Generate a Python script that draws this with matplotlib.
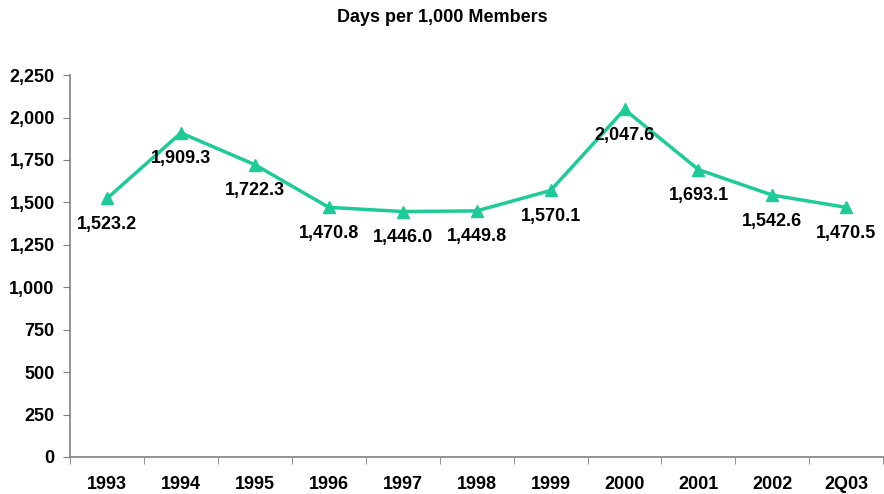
import matplotlib.pyplot as plt
import numpy as np

years = ["1993", "1994", "1995", "1996", "1997", "1998", "1999", "2000", "2001", "2002", "2Q03"]
days = [1523.2, 1909.3, 1722.3, 1470.8, 1446.0, 1449.8, 1570.1, 2047.6, 1693.1, 1542.6, 1470.5]

plt.rcParams['font.family'] = ['Liberation Sans', 'DejaVu Sans']
plt.rcParams['font.weight'] = 'bold'

fig = plt.figure(figsize=(8.84, 4.94), dpi=100)
ax = fig.add_axes([0.0792, 0.075, 0.92, 0.773])

x = np.arange(len(years))
green = "#1ECB98"
ax.plot(x, days, color=green, lw=2.5, marker="^", markersize=9, clip_on=False, zorder=3)

for xi, v in zip(x, days):
    ax.annotate(f"{v:,.1f}", (xi, v), xytext=(0, -12.5), textcoords="offset points",
                ha="center", va="top", fontsize=13, fontweight="bold", zorder=4)

ax.set_xlim(-0.5, len(years) - 0.5)
ax.set_ylim(0, 2250)
ax.set_yticks(np.arange(0, 2251, 250))
ax.set_yticklabels([f"{t:,}" for t in range(0, 2251, 250)], fontsize=13, fontweight="bold")
ax.set_xticks(x)
ax.set_xticklabels(years, fontsize=13, fontweight="bold")
ax.set_xticks(np.arange(-0.5, len(years)), minor=True)
ax.tick_params(axis="x", which="major", length=0, pad=14)
ax.tick_params(axis="x", which="minor", length=5, color="#808080")
ax.tick_params(axis="y", length=5, color="#808080", pad=6)

for s in ["top", "right"]:
    ax.spines[s].set_visible(False)
for s in ["left", "bottom"]:
    ax.spines[s].set_color("#808080")
    ax.spines[s].set_linewidth(1.2)

fig.text(0.5, 0.965, "Days per 1,000 Members", ha="center", va="center", fontsize=13, fontweight="bold")

fig.savefig("out.png", dpi=100)
